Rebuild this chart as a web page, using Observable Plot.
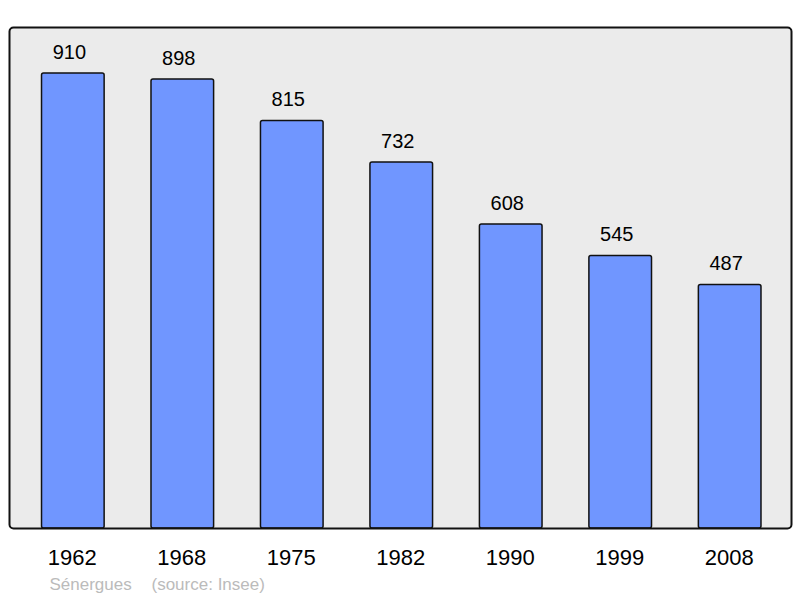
<!DOCTYPE html>
<html>
<head>
<meta charset="utf-8">
<script src="https://cdn.jsdelivr.net/npm/d3@7"></script>
<script src="https://cdn.jsdelivr.net/npm/@observablehq/plot@0.6"></script>
<style>
  html, body { margin: 0; padding: 0; background: #fff; }
  svg { font-family: "Liberation Sans", Arial, sans-serif; }
</style>
</head>
<body>
<div id="chart"></div>
<script>
const years = ["1962", "1968", "1975", "1982", "1990", "1999", "2008"];
const population = [910, 898, 815, 732, 608, 545, 487];
const commune = "Sénergues";
const source = "(source: Insee)";

const data = years.map((year, i) => ({year, value: population[i]}));

const chart = Plot.plot({
  width: 800,
  height: 598,
  marginTop: 27,
  marginBottom: 70,
  marginLeft: 9,
  marginRight: 9,
  style: {fontFamily: "'Liberation Sans', Arial, sans-serif", background: "#fff"},
  x: {domain: years, range: [9, 793.5], paddingInner: 0.428, paddingOuter: 0.297, round: false, axis: null},
  y: {domain: [0, 1002], axis: null},
  marks: [
    Plot.frame({fill: "#ebebeb", stroke: "none", rx: 4}),
    Plot.barY(data, {x: "year", y: "value", fill: "#7096ff", stroke: "#111", strokeWidth: 1.5, rx: 2}),
    Plot.frame({fill: "none", stroke: "#111", strokeWidth: 2, rx: 4}),
    Plot.text(data, {x: "year", y: "value", text: d => String(d.value), lineAnchor: "bottom", dy: -15, dx: -4, fontSize: 20, fill: "#000"}),
    Plot.text(years, {x: d => d, text: d => d, frameAnchor: "bottom", lineAnchor: "bottom", dy: 36, dx: -1, fontSize: 22, fill: "#000"}),
    Plot.text([commune], {frameAnchor: "bottom-left", textAnchor: "start", lineAnchor: "bottom", dx: 40, dy: 61, fontSize: 17, fill: "#bbbbbb"}),
    Plot.text([source], {frameAnchor: "bottom-left", textAnchor: "start", lineAnchor: "bottom", dx: 142, dy: 61, fontSize: 17, fill: "#bbbbbb"})
  ]
});
document.getElementById("chart").appendChild(chart);
</script>
</body>
</html>
